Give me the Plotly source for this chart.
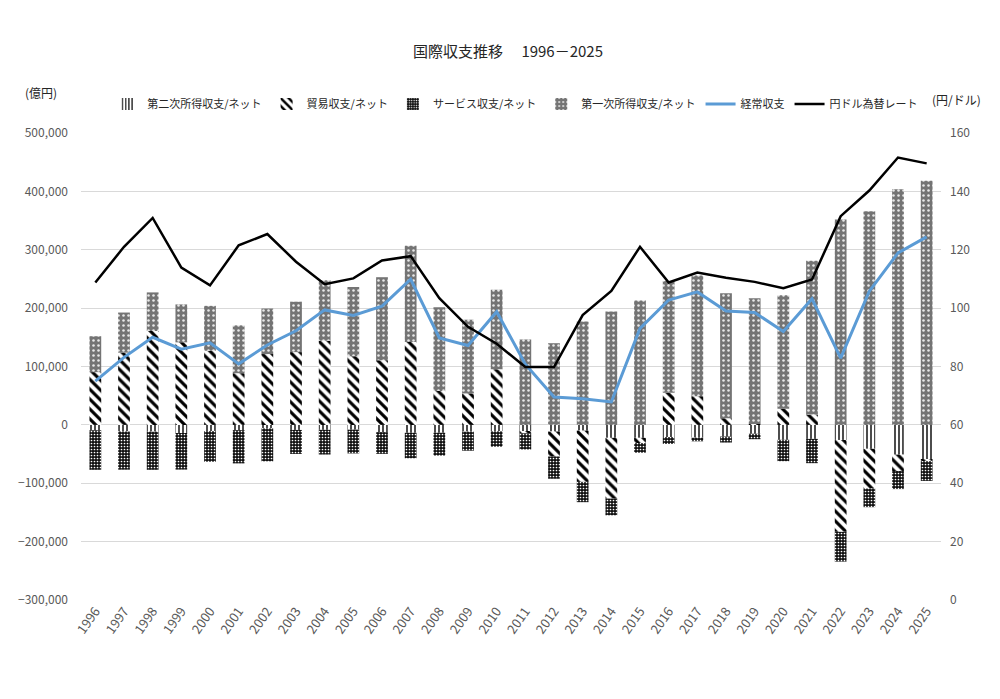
import plotly.graph_objects as go

years = list(range(1996, 2026))
year_labels = [str(y) for y in years]

# 億円
secondary = [-9183, -11259, -11697, -13869, -10596, -9035, -5958, -8697, -8509, -8157,
             -12429, -13581, -13515, -11635, -10917, -11096, -11445, -9892, -22212, -22193,
             -20802, -22010, -19943, -15188, -25575, -24000, -25802, -41000, -51000, -60000]
trade = [90346, 123709, 160782, 141370, 126983, 88469, 121211, 124631, 144235, 117712,
         110701, 141873, 58031, 53876, 95160, -3302, -42719, -87734, -104016, -8862,
         55176, 49113, 11265, 1503, 27779, 17623, -157436, -68000, -28000, -2000]
services = [-67764, -65483, -65250, -62720, -52685, -56919, -56521, -41078, -42274, -40782,
            -37241, -43620, -39131, -32627, -26588, -27799, -38110, -34786, -28705, -16784,
            -11942, -6167, -10301, -9333, -36674, -41600, -51000, -32000, -31000, -34000]
primary = [61544, 68733, 66146, 64953, 76914, 82009, 78105, 86398, 103488, 118503,
           142277, 164818, 143402, 126312, 136173, 146210, 139914, 176978, 194148, 213032,
           191478, 206843, 214026, 215531, 194387, 263400, 351857, 366000, 403500, 418000]
current = [74943, 115700, 149981, 129734, 140616, 104524, 136837, 161254, 196941, 187277,
           203307, 249490, 148786, 135925, 193828, 104013, 47640, 44566, 39215, 165194,
           213910, 227779, 195047, 192513, 159917, 216000, 114486, 229000, 294500, 322000]
# 円/ドル
usdjpy = [108.8, 121.0, 130.9, 113.9, 107.8, 121.5, 125.4, 115.9, 108.2, 110.2,
          116.3, 117.8, 103.4, 93.6, 87.8, 79.8, 79.8, 97.6, 105.9, 121.0,
          108.8, 112.2, 110.4, 109.0, 106.8, 109.8, 131.5, 140.3, 151.6, 149.6]

y_ticks = [-300000, -200000, -100000, 0, 100000, 200000, 300000, 400000, 500000]
y2_ticks = [0, 20, 40, 60, 80, 100, 120, 140, 160]

FONT = "Noto Sans CJK JP"
TICKC = "#595959"
GRID = "#d9d9d9"

fig = go.Figure()

fig.add_trace(go.Bar(
    x=years, y=secondary, name="第二次所得収支/ネット",
    marker=dict(color="white", line=dict(width=0),
                pattern=dict(shape="|", bgcolor="white", fgcolor="black",
                             size=4, solidity=0.35, fillmode="replace"))))
fig.add_trace(go.Bar(
    x=years, y=trade, name="貿易収支/ネット",
    marker=dict(color="white", line=dict(width=0),
                pattern=dict(shape="\\", bgcolor="white", fgcolor="black",
                             size=7, solidity=0.45, fillmode="replace"))))
fig.add_trace(go.Bar(
    x=years, y=services, name="サービス収支/ネット",
    marker=dict(color="black", line=dict(width=0),
                pattern=dict(shape=".", bgcolor="#111111", fgcolor="white",
                             size=3, solidity=0.25, fillmode="replace"))))
fig.add_trace(go.Bar(
    x=years, y=primary, name="第一次所得収支/ネット",
    marker=dict(color="#808080", line=dict(width=0),
                pattern=dict(shape=".", bgcolor="#747474", fgcolor="#e8e8e8",
                             size=5, solidity=0.2, fillmode="replace"))))
fig.add_trace(go.Scatter(
    x=years, y=current, name="経常収支", mode="lines",
    line=dict(color="#5B9BD5", width=3)))
fig.add_trace(go.Scatter(
    x=years, y=usdjpy, name="円ドル為替レート", mode="lines", yaxis="y2",
    line=dict(color="black", width=2.5)))

ymin, ymax = -300000, 500000

fig.update_layout(
    width=1000, height=699,
    margin=dict(l=81, r=59, t=133, b=99),
    paper_bgcolor="white", plot_bgcolor="white",
    font=dict(family=FONT, size=12, color=TICKC),
    barmode="relative", bargap=0.59,
    title=dict(text="国際収支推移　 1996－2025", x=0.508, xanchor="center",
               y=1 - 52 / 699, yanchor="middle",
               font=dict(family=FONT, size=15, color="#262626")),
    legend=dict(orientation="h", x=0.505, xanchor="center", y=1.062, yanchor="middle",
                traceorder="normal", font=dict(family=FONT, size=11, color="#262626"),
                itemwidth=30, bgcolor="rgba(0,0,0,0)"),
    xaxis=dict(range=[1995.5, 2025.5], tickmode="array", tickvals=years,
               ticktext=year_labels, tickangle=-55, showgrid=False, showline=False,
               zeroline=False, ticks="", tickfont=dict(size=13, color=TICKC)),
    xaxis2=dict(overlaying="x", matches="x", anchor="free",
                position=(0 - ymin) / (ymax - ymin),
                tickmode="array", tickvals=[y + 0.5 for y in range(1995, 2026)],
                showticklabels=False, ticks="outside", ticklen=4, tickcolor="#bfbfbf",
                showline=True, linecolor=GRID, linewidth=1, showgrid=False, zeroline=False),
    yaxis=dict(range=[ymin, ymax], tickmode="array", tickvals=y_ticks,
               tickformat=",", showgrid=True, gridcolor=GRID, gridwidth=1,
               zeroline=True, zerolinecolor=GRID, zerolinewidth=1,
               showline=False, ticks="", ticklabelstandoff=12,
               tickfont=dict(size=12, color=TICKC)),
    yaxis2=dict(range=[0, 160], tickmode="array", tickvals=y2_ticks, overlaying="y",
                side="right", showgrid=False, zeroline=False, showline=False,
                ticks="", ticklabelstandoff=8, tickfont=dict(size=12, color=TICKC)),
    annotations=[
        dict(text="(億円)", xref="paper", yref="paper", x=(41 - 81) / 860,
             y=1 + (133 - 92) / 467,
             xanchor="center", yanchor="middle", showarrow=False,
             font=dict(family=FONT, size=12, color="#262626")),
        dict(text="(円/ドル)", xref="paper", yref="paper", x=1 + (956 - 941) / 860,
             y=1 + (133 - 100) / 467, xanchor="center", yanchor="middle", showarrow=False,
             font=dict(family=FONT, size=12, color="#262626")),
    ],
)

fig.write_html("out.html")
